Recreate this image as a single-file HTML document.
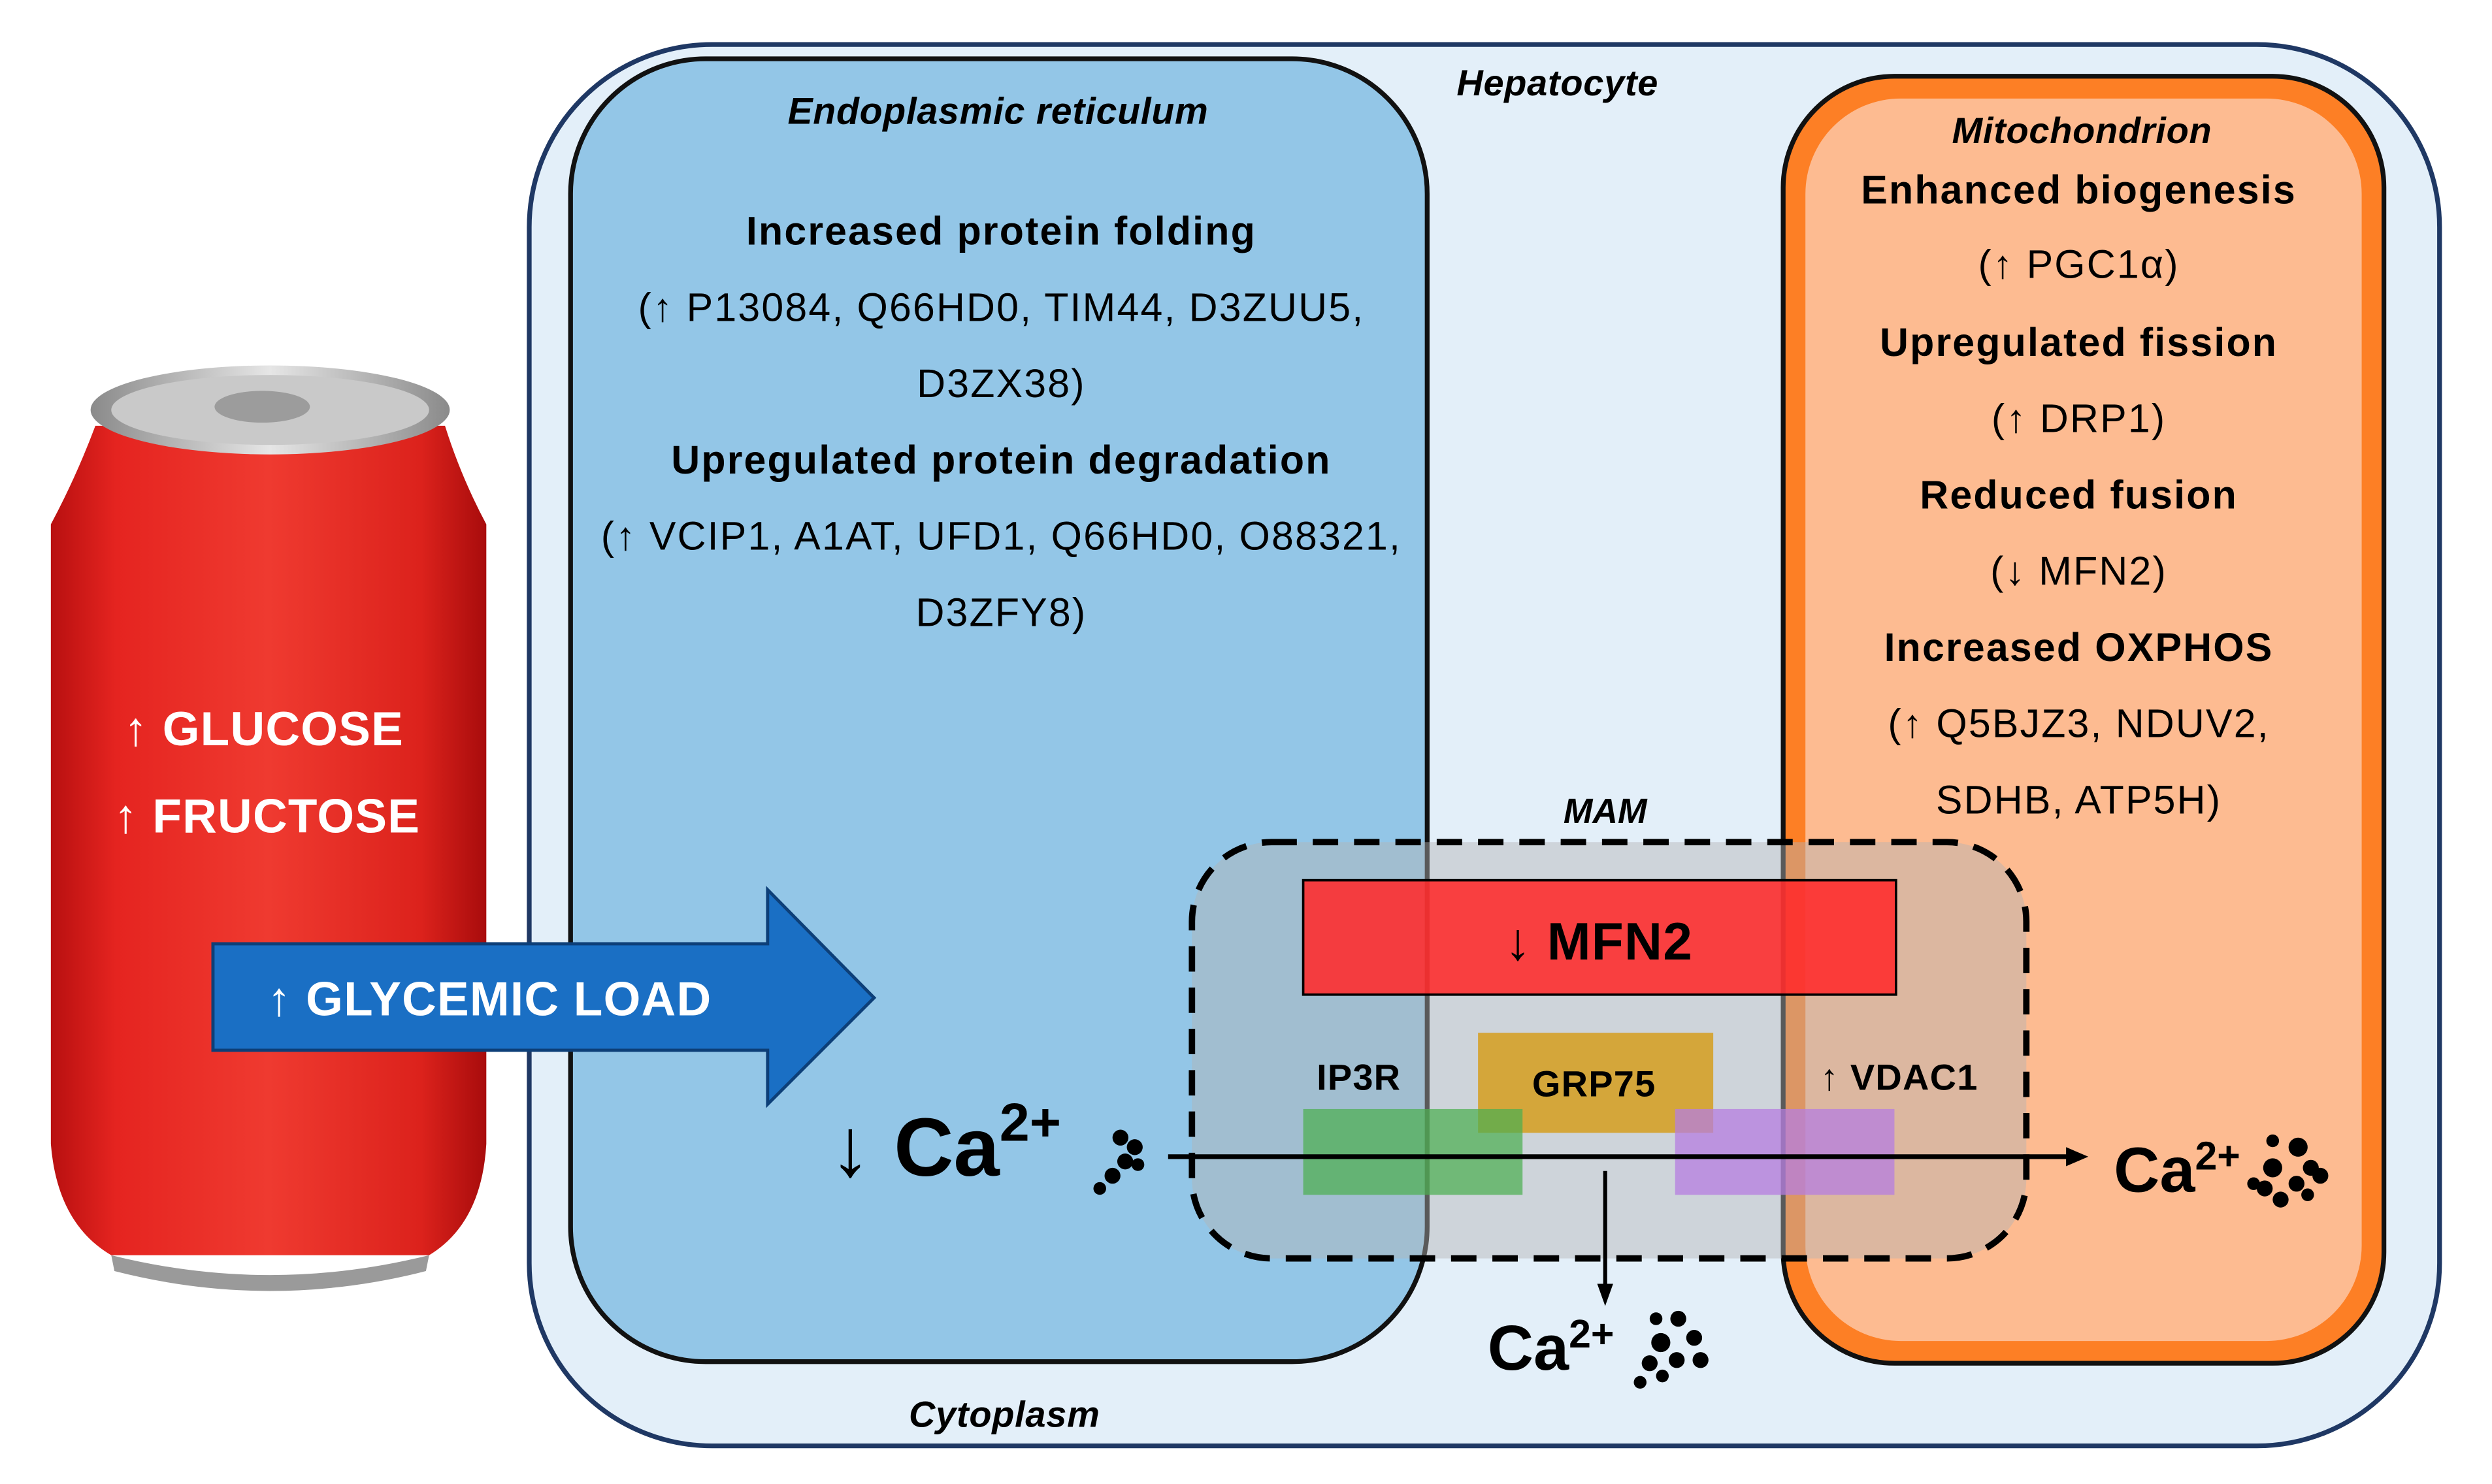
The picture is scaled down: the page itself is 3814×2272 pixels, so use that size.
<!DOCTYPE html>
<html><head><meta charset="utf-8"><style>
html,body{margin:0;padding:0;background:#fff;}
svg{display:block;}
text{font-family:"Liberation Sans",Arial,sans-serif;}
</style></head><body>
<svg width="3814" height="2272" viewBox="0 0 1568 934" preserveAspectRatio="none" xmlns="http://www.w3.org/2000/svg">
<defs>
<linearGradient id="can" x1="0" x2="1" y1="0" y2="0">
<stop offset="0" stop-color="#b81010"/><stop offset="0.15" stop-color="#e52420"/><stop offset="0.5" stop-color="#ef3a30"/><stop offset="0.85" stop-color="#dc221c"/><stop offset="1" stop-color="#a80c0c"/>
</linearGradient>
<linearGradient id="lid" x1="0" x2="1"><stop offset="0" stop-color="#8a8a8a"/><stop offset="0.5" stop-color="#e6e6e6"/><stop offset="1" stop-color="#8a8a8a"/></linearGradient>
</defs>
<rect width="1568" height="934" fill="#fff"/>
<!-- can -->
<path d="M60 268 Q48 300 32 330 L32 720 Q36 770 70 790 L270 790 Q303 770 306 720 L306 330 Q290 300 280 268 Z" fill="url(#can)"/>
<path d="M70 790 Q170 815 270 790 L268 800 Q170 825 72 800 Z" fill="#9a9a9a"/>
<ellipse cx="170" cy="258" rx="113" ry="28" fill="url(#lid)"/>
<ellipse cx="170" cy="258" rx="100" ry="22" fill="#c9c9c9"/>
<ellipse cx="165" cy="256" rx="30" ry="10" fill="#9c9c9c"/>
<!-- hepatocyte -->
<rect x="333" y="28" width="1202" height="882" rx="115" fill="#e3eff9" stroke="#1f3864" stroke-width="3"/>
<!-- ER -->
<rect x="359" y="37" width="539" height="820" rx="85" fill="#93c6e7" stroke="#111" stroke-width="3"/>
<!-- Mito -->
<rect x="1122" y="48" width="378" height="810" rx="70" fill="#fd7f25" stroke="#111" stroke-width="3"/>
<rect x="1136" y="62" width="350" height="782" rx="60" fill="#fdbb91"/>
<!-- MAM -->
<rect x="750" y="530" width="525" height="262" rx="50" fill="#b4b4b4" fill-opacity="0.45" stroke="#000" stroke-width="4" stroke-dasharray="16,10"/>
<rect x="820" y="554" width="373" height="72" fill="#ff2a2a" fill-opacity="0.88" stroke="#000" stroke-width="1.5"/>
<rect x="930" y="650" width="148" height="63" fill="#d4a63a"/>
<rect x="820" y="698" width="138" height="54" fill="#4caf50" fill-opacity="0.72"/>
<rect x="1054" y="698" width="138" height="54" fill="#b57ee0" fill-opacity="0.75"/>
<!-- arrows -->
<line x1="735" y1="728" x2="1302" y2="728" stroke="#000" stroke-width="3"/>
<polygon points="1300,722 1314,728 1300,734" fill="#000"/>
<line x1="1010" y1="737" x2="1010" y2="810" stroke="#000" stroke-width="2.5"/>
<polygon points="1005,808 1010,822 1015,808" fill="#000"/>
<!-- blue arrow -->
<polygon points="134,594 483,594 483,560 550,628 483,695 483,661 134,661" fill="#1a6fc4" stroke="#0d3f78" stroke-width="2"/>
<!-- text -->
<g font-weight="bold" fill="#000" text-anchor="middle" font-size="25" letter-spacing="0.9">
<text x="980" y="60" font-style="italic" font-size="23" letter-spacing="0.3">Hepatocyte</text>
<text x="628" y="78" font-style="italic" font-size="23.5" letter-spacing="0.3">Endoplasmic reticulum</text>
<text x="630" y="154">Increased protein folding</text>
<text x="630" y="202" font-weight="normal">(↑ P13084, Q66HD0, TIM44, D3ZUU5,</text>
<text x="630" y="250" font-weight="normal">D3ZX38)</text>
<text x="630" y="298">Upregulated protein degradation</text>
<text x="630" y="346" font-weight="normal">(↑ VCIP1, A1AT, UFD1, Q66HD0, O88321,</text>
<text x="630" y="394" font-weight="normal">D3ZFY8)</text>
<text x="1310" y="90" font-style="italic" font-size="23" letter-spacing="0.3">Mitochondrion</text>
<text x="1308" y="128">Enhanced biogenesis</text>
<text x="1308" y="175" font-weight="normal">(↑ PGC1α)</text>
<text x="1308" y="224">Upregulated fission</text>
<text x="1308" y="272" font-weight="normal">(↑ DRP1)</text>
<text x="1308" y="320">Reduced fusion</text>
<text x="1308" y="368" font-weight="normal">(↓ MFN2)</text>
<text x="1308" y="416">Increased OXPHOS</text>
<text x="1308" y="464" font-weight="normal">(↑ Q5BJZ3, NDUV2,</text>
<text x="1308" y="512" font-weight="normal">SDHB, ATP5H)</text>
<text x="1010" y="518" font-style="italic" font-size="22" letter-spacing="0">MAM</text>
<text x="632" y="898" font-style="italic" font-size="23" letter-spacing="0.3">Cytoplasm</text>
<text x="1006" y="604" font-size="33" letter-spacing="0.5">↓ MFN2</text>
<text x="855" y="686" font-size="23" letter-spacing="0.5">IP3R</text>
<text x="1003" y="690" font-size="23" letter-spacing="0.5">GRP75</text>
<text x="1195" y="686" font-size="23" letter-spacing="0.5">↑ VDAC1</text>
<text x="166" y="469" fill="#fff" font-size="30" letter-spacing="0.5">↑ GLUCOSE</text>
<text x="168" y="524" fill="#fff" font-size="30" letter-spacing="0.5">↑ FRUCTOSE</text>
<text x="308" y="639" fill="#fff" font-size="30" letter-spacing="0.5">↑ GLYCEMIC LOAD</text>
</g>
<g font-weight="bold" fill="#000">
<text x="522" y="740" font-size="52">↓ Ca<tspan font-size="34" dy="-22">2+</tspan></text>
<text x="1330" y="750" font-size="40">Ca<tspan font-size="25" dy="-14">2+</tspan></text>
<text x="936" y="862" font-size="40">Ca<tspan font-size="25" dy="-14">2+</tspan></text>
</g>
<g fill="#000">
<circle cx="705" cy="716" r="5"/><circle cx="714" cy="722" r="5"/><circle cx="708" cy="731" r="5"/><circle cx="700" cy="740" r="5"/><circle cx="692" cy="748" r="4"/><circle cx="716" cy="733" r="4"/>
<circle cx="1430" cy="718" r="4"/><circle cx="1446" cy="722" r="6"/><circle cx="1454" cy="735" r="5"/><circle cx="1430" cy="735" r="6"/><circle cx="1460" cy="740" r="5"/><circle cx="1445" cy="745" r="5"/><circle cx="1425" cy="748" r="5"/><circle cx="1435" cy="755" r="5"/><circle cx="1418" cy="745" r="4"/><circle cx="1452" cy="752" r="4"/>
<circle cx="1042" cy="830" r="4"/><circle cx="1056" cy="830" r="5"/><circle cx="1066" cy="842" r="5"/><circle cx="1045" cy="845" r="6"/><circle cx="1070" cy="856" r="5"/><circle cx="1055" cy="856" r="5"/><circle cx="1038" cy="858" r="5"/><circle cx="1032" cy="870" r="4"/><circle cx="1046" cy="866" r="4"/>
</g>
</svg>
</body></html>
